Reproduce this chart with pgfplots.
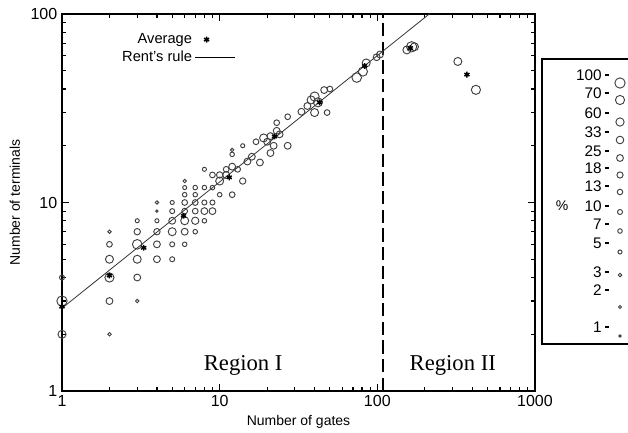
\documentclass[border=0pt]{standalone}
\usepackage{pgfplots}
\pgfplotsset{compat=1.18}
\usepackage{fontspec}
\setmainfont{Liberation Sans}
\newfontfamily\serifR{Liberation Serif}
\newcommand{\leglab}[2]{%
  \node[anchor=east, font=\fontsize{11.5}{13}\selectfont, inner sep=0pt] at (axis cs:602,#2) {#1};
  \draw[line width=0.9pt] (axis cs:605,#2) -- (axis cs:609,#2);}
\begin{document}
\begin{tikzpicture}
\path[use as bounding box] (-46.5pt,-30.75pt) rectangle (424.5pt,293.25pt);
\begin{axis}[
  at={(0pt,0pt)}, anchor=south west,
  scale only axis, width=354.75pt, height=282.75pt,
  xmode=log, ymode=log,
  xmin=1, xmax=1000, ymin=1, ymax=100,
  xtick={1,10,100,1000}, xticklabels={1,10,100,1000},
  ytick={1,10,100}, yticklabels={1,10,100},
  tick align=inside,
  major tick length=5pt, minor tick length=3pt,
  axis line style={line width=1.2pt},
  every tick/.style={black, line width=0.9pt},
  tick label style={font=\fontsize{12}{14}\selectfont},
  xlabel={Number of gates}, ylabel={Number of terminals},
  label style={font=\fontsize{10.5}{12}\selectfont},
  xlabel style={yshift=1pt},
  ylabel style={yshift=1pt},
  legend style={draw=none, fill=none, at={(0.376,0.963)}, anchor=north east,
    font=\fontsize{11}{13}\selectfont, row sep=0pt},
  legend cell align=right, legend plot pos=right,
]
% data points (x, y, radius in px)
\addplot[scatter, only marks, mark=o, line width=0.7pt,
  scatter/use mapped color={draw=black!75, fill=none},
  visualization depends on={0.86*\thisrow{r} \as \rr},
  scatter/@pre marker code/.append style={/tikz/mark size=\rr},
  forget plot] table[x=x, y=y] {
x y r
1 4 2.2
1 3 4.5
1 2 3.5
2 7 1.5
2 6 2.5
2 5 3.5
2 4 4
2 3 3
2 2 1.5
3 8 1.8
3 7 2.8
3 6 4.2
3 5 3.5
3 4 3
3 3 1.5
4 10 1.5
4 9 1
4 8 1.8
4 7 2.8
4 6 3
4 5 3
5 10 1.8
5 9 2.2
5 8 3
5 7 3.5
5 6 2.2
5 5 2.2
6 13 1.5
6 12 1.8
6 11 2
6 10 2.5
6 9 2.5
6 8 3.5
6 7 3
6 6 2
7 12 2
7 11 2
7 10 2.5
7 9 2.5
7 8 3.2
7 7 2
8 15 1.8
8 12 2
8 10 2.2
8 9 3
8 8 2
9 14 2.5
9 12 2
9 10 2.2
9 9 3
10 14 2.8
10 13 3.5
10 11 2
11 14 3
11 15 2.5
12 11 2.5
12 15.5 3
12 18 2
12 19 1.5
13 15 2.5
14 13 2.8
14 20 1.8
15 16.5 3
16 17.5 3
17 21 2.5
18 16.3 3
19 22 3.5
20 21 3
21 18.3 3
21 22.5 3
22 20 3
23 26.5 2.5
23 24 3
24 23 3
27 20 3
27 28.5 2.5
33 30.3 3
36 32.5 3
38 35 3.5
40 30 3.5
40 36.5 4
42 34 4
46 39.5 3
50 40 2.5
48 30 2.5
74 46 4.2
81 49.5 4
85 55 3.5
99 59 3
104 61 3
154 64.5 3.5
165 67 4.5
172 67 3.5
324 56 3.5
422 39.6 4
};
% region divider
\addplot[black, line width=1.5pt, dash pattern=on 10pt off 4pt, forget plot]
  coordinates {(108,1) (108,100)};
% averages
\addplot[only marks, mark=asterisk, mark size=2.2pt, line width=1.1pt, black]
  coordinates {(1,2.8) (2,4.1) (3.3,5.75) (5.9,8.5) (11.5,13.6) (22.3,22.4)
               (43,34) (83,53) (162,66) (370,47.7)};
\addlegendentry{Average}
% Rent's rule
\addplot[black!80, line width=0.6pt,
  legend image code/.code={\draw[black, line width=0.8pt] (0cm,0cm) -- (1.05cm,0cm);}]
  coordinates {(1,2.75) (215,100.5)};
\addlegendentry{Rent's rule}
\node[font=\serifR\fontsize{17}{20}\selectfont] at (axis cs:14.1,1.37) {Region I};
\node[font=\serifR\fontsize{17}{20}\selectfont] at (axis cs:301,1.37) {Region II};
\end{axis}
% size legend
\begin{axis}[
  at={(360pt,35.25pt)}, anchor=south west,
  scale only axis, width=73.5pt, height=213.75pt,
  xmin=542, xmax=640, ymin=59, ymax=344, y dir=reverse,
  axis line style={line width=1.2pt},
  ticks=none, clip=false,
]
\addplot[scatter, only marks, mark=o, line width=0.7pt,
  scatter/use mapped color={draw=black!75, fill=none},
  visualization depends on={0.86*\thisrow{r} \as \rr},
  scatter/@pre marker code/.append style={/tikz/mark size=\rr}]
  table[x=x, y=y] {
x y r
620 83 4.5
620 100 4
620 122 3.6
620 140 3.3
620 158 3
620 175 2.7
620 192 2.4
620 212 2.2
620 231 2
620 252 1.8
620 275 1.6
620 307 1.3
620 336 1.0
};
\leglab{100}{75}
\leglab{70}{93}
\leglab{60}{113}
\leglab{33}{132}
\leglab{25}{151}
\leglab{18}{168}
\leglab{13}{186}
\leglab{10}{206}
\leglab{7}{224}
\leglab{5}{243}
\leglab{3}{272}
\leglab{2}{290}
\leglab{1}{327}
\node[font=\fontsize{10.5}{12}\selectfont] at (axis cs:562,206) {\%};
\end{axis}
\end{tikzpicture}
\end{document}
